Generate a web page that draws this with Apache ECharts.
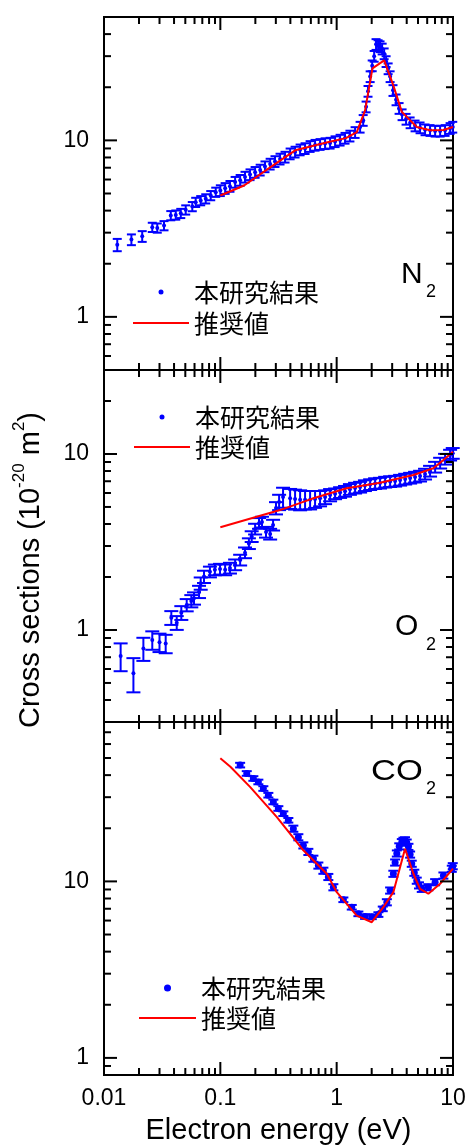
<!DOCTYPE html>
<html>
<head>
<meta charset="utf-8">
<title>Cross sections</title>
<script src="https://cdn.jsdelivr.net/npm/echarts@6/dist/echarts.min.js"></script>
<style>
  html, body { margin: 0; padding: 0; background: #fff; }
  #chart { width: 467px; height: 1145px; }
</style>
</head>
<body>
<div id="chart"></div>
<script>
// ---- data: [energy eV, cross section, relative error] ----
const n2Measured = [
  [0.0130, 2.56, 0.08], [0.0172, 2.74, 0.07], [0.0213, 2.86, 0.07], [0.0260, 3.22, 0.06],
  [0.0287, 3.19, 0.06], [0.0328, 3.29, 0.06], [0.0375, 3.75, 0.06], [0.0414, 3.78, 0.06],
  [0.0457, 3.86, 0.06], [0.0504, 4.04, 0.06], [0.0574, 4.22, 0.06], [0.0614, 4.46, 0.06],
  [0.0678, 4.56, 0.06], [0.0749, 4.67, 0.06], [0.0827, 4.87, 0.06], [0.0913, 5.09, 0.06],
  [0.100, 5.2, 0.07], [0.110, 5.35, 0.07], [0.121, 5.5, 0.07], [0.134, 5.8, 0.07],
  [0.148, 5.95, 0.07], [0.163, 6.2, 0.07], [0.180, 6.4, 0.07], [0.199, 6.6, 0.07],
  [0.220, 6.8, 0.07], [0.242, 7.1, 0.07], [0.268, 7.35, 0.07], [0.295, 7.6, 0.07],
  [0.326, 7.85, 0.07], [0.360, 8.05, 0.07], [0.398, 8.4, 0.07], [0.439, 8.6, 0.07],
  [0.485, 8.85, 0.07], [0.535, 9.0, 0.07], [0.591, 9.25, 0.07], [0.652, 9.4, 0.07],
  [0.720, 9.5, 0.07], [0.795, 9.6, 0.07], [0.878, 9.66, 0.07], [0.969, 9.85, 0.07],
  [1.07, 10.05, 0.07], [1.18, 10.3, 0.07], [1.30, 10.6, 0.07], [1.44, 11.1, 0.07],
  [1.59, 11.9, 0.07], [1.69, 13.0, 0.07], [1.79, 15.5, 0.07], [1.86, 19, 0.07],
  [1.94, 23, 0.07], [2.02, 26.5, 0.07], [2.10, 30, 0.07], [2.18, 35, 0.07],
  [2.27, 34.5, 0.07], [2.36, 34, 0.07], [2.46, 33, 0.07], [2.56, 31, 0.07],
  [2.66, 28, 0.07], [2.77, 25.5, 0.07], [2.88, 23, 0.07], [3.05, 19.2, 0.07],
  [3.24, 17, 0.07], [3.44, 15.2, 0.07], [3.65, 14, 0.07], [3.95, 13.2, 0.07],
  [4.28, 12.6, 0.07], [4.72, 12.1, 0.07], [5.21, 11.8, 0.07], [5.75, 11.5, 0.07],
  [6.35, 11.4, 0.07], [7.02, 11.3, 0.07], [7.75, 11.3, 0.07], [8.55, 11.4, 0.07],
  [9.44, 11.7, 0.07], [9.95, 11.9, 0.07]
];
const n2Recommended = [
  [0.1, 4.87], [0.16, 5.55], [0.27, 7.05], [0.44, 8.78], [0.85, 9.78], [1.2, 10.3],
  [1.49, 11.15], [1.755, 14.8], [2.03, 25.6], [2.56, 28.4], [3.07, 20.5], [3.63, 14.5],
  [4.88, 11.9], [6.35, 11.4], [8.27, 11.45], [10, 11.9]
];

const o2Measured = [
  [0.0139, 0.711, 0.18], [0.0179, 0.567, 0.22], [0.0218, 0.785, 0.15], [0.0260, 0.877, 0.12],
  [0.0300, 0.851, 0.12], [0.0339, 0.838, 0.12], [0.0379, 1.174, 0.09], [0.0422, 1.10, 0.09],
  [0.0462, 1.253, 0.09], [0.0514, 1.387, 0.08], [0.0563, 1.461, 0.08], [0.0594, 1.514, 0.08],
  [0.0656, 1.65, 0.08], [0.0678, 1.84, 0.08], [0.0724, 2.01, 0.08], [0.0814, 2.14, 0.07],
  [0.0898, 2.2, 0.07], [0.0994, 2.22, 0.07], [0.110, 2.2, 0.07], [0.121, 2.25, 0.07],
  [0.134, 2.35, 0.07], [0.148, 2.5, 0.07], [0.163, 2.75, 0.07], [0.176, 3.1, 0.07],
  [0.186, 3.4, 0.07], [0.199, 3.75, 0.07], [0.215, 4.04, 0.07], [0.228, 4.11, 0.07],
  [0.247, 3.60, 0.07], [0.268, 3.51, 0.07], [0.284, 3.95, 0.07], [0.301, 4.93, 0.08],
  [0.320, 5.33, 0.1], [0.346, 5.69, 0.13], [0.398, 5.6, 0.13], [0.439, 5.55, 0.13],
  [0.485, 5.5, 0.13], [0.535, 5.5, 0.12], [0.591, 5.5, 0.12], [0.652, 5.55, 0.11],
  [0.720, 5.6, 0.1], [0.795, 5.7, 0.09], [0.878, 5.85, 0.08], [0.969, 5.95, 0.07],
  [1.07, 6.05, 0.07], [1.18, 6.15, 0.07], [1.30, 6.3, 0.07], [1.44, 6.41, 0.07],
  [1.59, 6.49, 0.07], [1.75, 6.62, 0.07], [1.94, 6.71, 0.07], [2.14, 6.80, 0.07],
  [2.36, 6.84, 0.07], [2.61, 6.93, 0.07], [2.88, 6.98, 0.07], [3.18, 7.02, 0.07],
  [3.51, 7.11, 0.07], [3.88, 7.21, 0.07], [4.28, 7.30, 0.07], [4.72, 7.40, 0.07],
  [5.21, 7.50, 0.07], [5.75, 7.70, 0.07], [6.35, 8.0, 0.07], [7.02, 8.43, 0.07],
  [7.75, 8.89, 0.07], [8.55, 9.36, 0.07], [9.44, 9.87, 0.07], [9.95, 10.1, 0.07]
];
const o2Recommended = [
  [0.1, 3.83], [0.326, 4.80], [0.524, 5.36], [0.631, 5.6], [1.22, 6.38], [2.36, 6.87],
  [4.57, 7.6], [6.78, 8.29], [8.27, 9.24], [10, 10.3]
];

const co2Measured = [
  [0.148, 45.6, 0.03], [0.1687, 40.9, 0.03], [0.1923, 38.3, 0.03], [0.2123, 36.6, 0.03],
  [0.2343, 33.6, 0.03], [0.2587, 30.8, 0.03], [0.2856, 28.2, 0.03], [0.3153, 25.9, 0.03],
  [0.348, 24.2, 0.03], [0.3843, 22.2, 0.03], [0.4243, 19.9, 0.04], [0.4685, 17.8, 0.04],
  [0.517, 16.0, 0.04], [0.571, 14.7, 0.04], [0.631, 13.45, 0.04], [0.696, 12.3, 0.04],
  [0.769, 11.5, 0.04], [0.848, 10.6, 0.04], [0.937, 9.27, 0.04], [1.142, 7.87, 0.03],
  [1.348, 7.14, 0.03], [1.537, 6.55, 0.03], [1.755, 6.32, 0.03], [2.004, 6.3, 0.03],
  [2.284, 6.49, 0.03], [2.49, 6.99, 0.03], [2.70, 7.62, 0.04], [2.88, 8.88, 0.04],
  [3.07, 11.05, 0.04], [3.18, 12.8, 0.04], [3.29, 14.4, 0.04], [3.45, 15.8, 0.04],
  [3.63, 16.7, 0.04], [3.75, 17.0, 0.04], [3.87, 17.1, 0.04], [4.0, 16.6, 0.04],
  [4.14, 15.7, 0.04], [4.28, 14.2, 0.04], [4.42, 12.6, 0.04], [4.65, 11.2, 0.04],
  [4.88, 10.1, 0.04], [5.1, 9.5, 0.04], [5.39, 9.08, 0.04], [6.14, 9.27, 0.04],
  [7.02, 9.9, 0.04], [8.27, 10.8, 0.04], [9.76, 11.8, 0.04], [9.95, 12.2, 0.04]
];
const co2Recommended = [
  [0.1, 49.8], [0.122, 44.6], [0.18, 34.3], [0.305, 23.2], [0.517, 15.0], [0.822, 11.05],
  [1.002, 8.69], [1.489, 6.40], [2.004, 5.87], [2.52, 7.14], [3.07, 8.69], [3.87, 15.3],
  [4.57, 11.05], [5.21, 9.08], [6.14, 8.51], [7.75, 9.70], [10, 11.8]
];

const xTickLabels = ['0.01', '0.1', '1', '10'];
const yTickLabels = ['1', '10'];
const seriesNames = ['本研究結果', '推奨値'];
const molecules = [['N', '2'], ['O', '2'], ['CO', '2']];

// ---- layout ----
const FONT = '"Liberation Sans", Arial, sans-serif';
const CJK = '"Noto Sans CJK JP", sans-serif';
const BLUE = '#0000ff';
const RED = '#ff0000';

const panels = [
  { top: 17, height: 353, yMin: 0.5, yMax: 50, measured: n2Measured, recommended: n2Recommended, dot: 4, cap: 4.5 },
  { top: 370, height: 352, yMin: 0.3, yMax: 30, measured: o2Measured, recommended: o2Recommended, dot: 4, cap: 7 },
  { top: 722, height: 353, yMin: 0.8, yMax: 80, measured: co2Measured, recommended: co2Recommended, dot: 7, cap: 5 }
];

const fmt = v => String(parseFloat(Number(v).toPrecision(6)));
const onlyLabels = labels => v => (labels.indexOf(fmt(v)) >= 0 ? fmt(v) : '');

// 刻度：主刻度在 10 的整数次幂，次刻度在 2..9 倍
const logTicks = (min, max) => {
  const ticks = [];
  [0.01, 0.1, 1, 10].forEach(d => {
    for (let m = 1; m <= 9; m++) {
      const v = parseFloat((d * m).toPrecision(6));
      if (v >= min * 0.999 && v <= max * 1.001) ticks.push([v, m === 1 ? 13 : 7]);
    }
  });
  return ticks;
};

const lineStyleBlack = { stroke: '#000', lineWidth: 2 };

const xTickRender = yRef => (params, api) => {
  const cs = params.coordSys;
  const x = api.coord([api.value(0), yRef])[0];
  const len = api.value(1);
  const bottom = cs.y + cs.height;
  return {
    type: 'group',
    children: [
      { type: 'line', shape: { x1: x, y1: bottom, x2: x, y2: bottom - len }, style: lineStyleBlack },
      { type: 'line', shape: { x1: x, y1: cs.y, x2: x, y2: cs.y + len }, style: lineStyleBlack }
    ]
  };
};

const yTickRender = xRef => (params, api) => {
  const cs = params.coordSys;
  const y = api.coord([xRef, api.value(0)])[1];
  const len = api.value(1);
  const right = cs.x + cs.width;
  return {
    type: 'group',
    children: [
      { type: 'line', shape: { x1: cs.x, y1: y, x2: cs.x + len, y2: y }, style: lineStyleBlack },
      { type: 'line', shape: { x1: right, y1: y, x2: right - len, y2: y }, style: lineStyleBlack }
    ]
  };
};

const errorBarRender = capHalf => (params, api) => {
  const x = api.value(0);
  const lo = api.coord([x, api.value(1)]);
  const hi = api.coord([x, api.value(2)]);
  const style = { stroke: BLUE, lineWidth: 2 };
  return {
    type: 'group',
    children: [
      { type: 'line', shape: { x1: lo[0], y1: lo[1], x2: hi[0], y2: hi[1] }, style },
      { type: 'line', shape: { x1: lo[0] - capHalf, y1: lo[1], x2: lo[0] + capHalf, y2: lo[1] }, style },
      { type: 'line', shape: { x1: hi[0] - capHalf, y1: hi[1], x2: hi[0] + capHalf, y2: hi[1] }, style }
    ]
  };
};

const series = [];
panels.forEach((p, i) => {
  series.push({
    type: 'custom',
    xAxisIndex: i,
    yAxisIndex: i,
    silent: true,
    z: 2,
    encode: { x: 0, y: [1, 2] },
    renderItem: errorBarRender(p.cap),
    data: p.measured.map(d => [d[0], d[1] * (1 - d[2]), d[1] * (1 + d[2])])
  });
  series.push({
    name: seriesNames[0],
    type: 'scatter',
    xAxisIndex: i,
    yAxisIndex: i,
    symbol: 'circle',
    symbolSize: p.dot,
    itemStyle: { color: BLUE, opacity: 1 },
    z: 3,
    data: p.measured.map(d => [d[0], d[1]])
  });
  series.push({
    name: seriesNames[1],
    type: 'line',
    xAxisIndex: i,
    yAxisIndex: i,
    symbol: 'none',
    itemStyle: { color: RED },
    lineStyle: { color: RED, width: 2 },
    z: 4,
    data: p.recommended
  });
  series.push({
    type: 'custom',
    xAxisIndex: i,
    yAxisIndex: i,
    silent: true,
    z: 5,
    renderItem: xTickRender(p.yMin),
    data: logTicks(0.01, 10)
  });
  series.push({
    type: 'custom',
    xAxisIndex: i,
    yAxisIndex: i,
    silent: true,
    z: 5,
    renderItem: yTickRender(0.01),
    data: logTicks(p.yMin, p.yMax)
  });
});

const legendBase = {
  orient: 'vertical',
  itemWidth: 56,
  itemHeight: 5,
  selectedMode: false,
  data: [{ name: seriesNames[0] }, { name: seriesNames[1], itemStyle: { opacity: 0 } }],
  textStyle: { fontSize: 25, lineHeight: 26, color: '#000', fontFamily: CJK }
};

const moleculePos = [
  { x: 401, y: 275, sx: 426, sy: 292 },
  { x: 395, y: 627, sx: 426, sy: 645 },
  { x: 371, y: 772, sx: 426, sy: 789 }
];

const graphics = [
  {
    type: 'text',
    x: 31,
    y: 570,
    rotation: Math.PI / 2,
    silent: true,
    style: {
      text: '{a|Cross sections (10}{s|-20}{a| m}{s|2}{a|)}',
      rich: {
        a: { fontSize: 29, lineHeight: 40, fontFamily: FONT, fill: '#000' },
        s: { fontSize: 17, lineHeight: 18, verticalAlign: 'top', fontFamily: FONT, fill: '#000' }
      },
      fill: '#000',
      align: 'center',
      verticalAlign: 'middle'
    }
  }
];
molecules.forEach((m, i) => {
  const pos = moleculePos[i];
  graphics.push({
    type: 'text', x: pos.x, y: pos.y, silent: true,
    scaleX: m[0].length > 1 ? 1.15 : 1,
    style: { text: m[0], fontSize: 30, fontFamily: FONT, fill: '#000', align: 'left', verticalAlign: 'middle' }
  });
  graphics.push({
    type: 'text', x: pos.sx, y: pos.sy, silent: true,
    style: { text: m[1], fontSize: 18, fontFamily: FONT, fill: '#000', align: 'left', verticalAlign: 'middle' }
  });
});

const option = {
  animation: false,
  backgroundColor: '#fff',
  textStyle: { fontFamily: FONT },
  grid: panels.map(p => ({
    left: 104,
    width: 349,
    top: p.top,
    height: p.height,
    show: true,
    borderColor: '#000',
    borderWidth: 2,
    backgroundColor: 'transparent',
    containLabel: false,
    outerBoundsMode: 'none'
  })),
  xAxis: panels.map((p, i) => ({
    gridIndex: i,
    type: 'log',
    logBase: 10,
    min: 0.01,
    max: 10,
    axisLine: { show: false },
    axisTick: { show: false },
    splitLine: { show: false },
    axisLabel: i === 2 ? {
      show: true,
      interval: 0,
      margin: 12,
      fontSize: 23,
      color: '#000',
      fontFamily: FONT,
      showMinLabel: true,
      showMaxLabel: true,
      formatter: onlyLabels(xTickLabels)
    } : { show: false },
    name: i === 2 ? 'Electron energy (eV)' : '',
    nameLocation: 'middle',
    nameGap: 41,
    nameTextStyle: { fontSize: 29, color: '#000', fontFamily: FONT }
  })),
  yAxis: panels.map((p, i) => ({
    gridIndex: i,
    type: 'log',
    logBase: 10,
    min: p.yMin,
    max: p.yMax,
    axisLine: { show: false },
    axisTick: { show: false },
    splitLine: { show: false },
    axisLabel: {
      interval: 0,
      margin: 15,
      fontSize: 23,
      color: '#000',
      fontFamily: FONT,
      formatter: onlyLabels(yTickLabels)
    }
  })),
  legend: [
    Object.assign({}, legendBase, { left: 127, top: 274, itemGap: 5 }),
    Object.assign({}, legendBase, { left: 128, top: 399, itemGap: 4 }),
    Object.assign({}, legendBase, { left: 133, top: 970, itemGap: 4, itemWidth: 57, itemHeight: 7 })
  ],
  graphic: graphics,
  series: series
};

const chart = echarts.init(document.getElementById('chart'));
chart.setOption(option);
window.addEventListener('resize', () => chart.resize());
</script>
</body>
</html>
